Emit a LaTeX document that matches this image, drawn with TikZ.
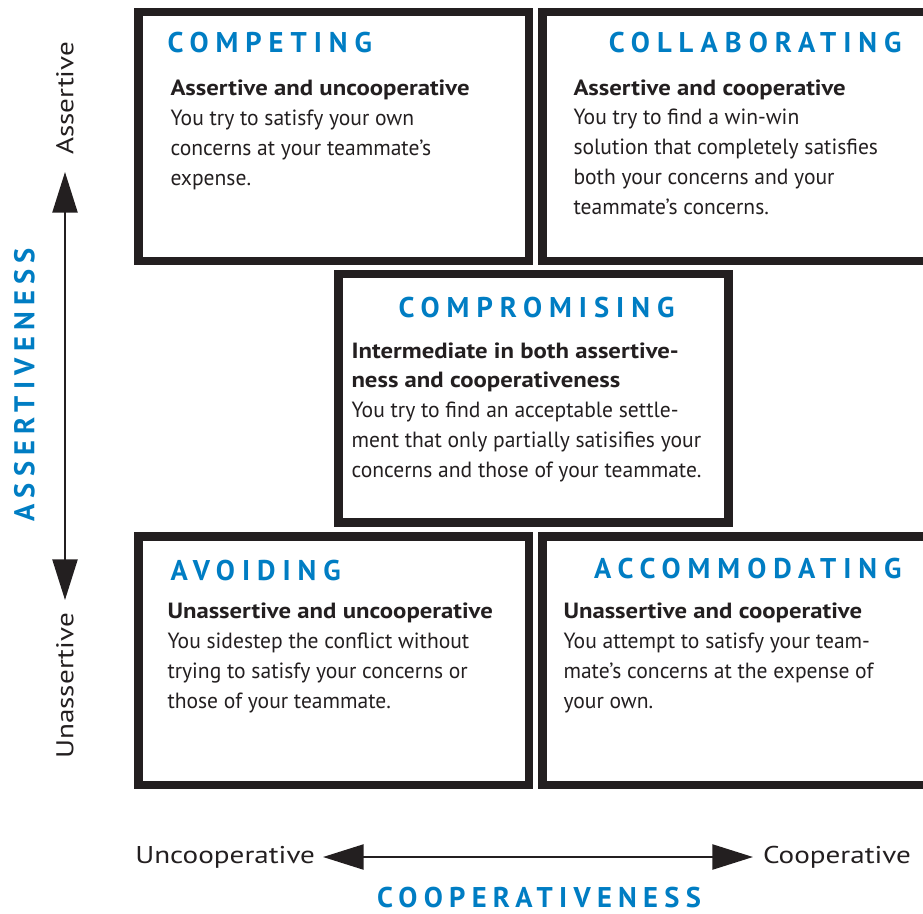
\documentclass[tikz,border=0pt]{standalone}
\usepackage{fontspec}
\setmainfont{PT Sans}[UprightFeatures={FakeStretch=0.98}, BoldFeatures={FakeStretch=1.125}]
\newfontfamily\axisfont{PT Sans}[FakeStretch=1.2]
\newfontfamily\headfont{PT Sans}[LetterSpace=24.5]
\newfontfamily\axistitlefont{PT Sans}[LetterSpace=22]
\usetikzlibrary{arrows.meta}
\definecolor{modeblue}{RGB}{0,125,195}
\definecolor{inkblack}{RGB}{35,31,32}
\tikzset{every picture/.style={line width=0.75pt}}
\tikzset{
  modebox/.style={draw=inkblack, line width=6.4pt},
  modetitle/.style={anchor=base west, inner sep=0pt, text=modeblue, font=\headfont\bfseries\fontsize{21.4}{21.4}\selectfont},
  modetext/.style={anchor=base west, inner sep=0pt, align=left, text=inkblack, font=\fontsize{16.5}{22.3}\selectfont},
  axislabel/.style={inner sep=0pt, text=inkblack, font=\axisfont\fontsize{18.2}{18.2}\selectfont},
  axistitle/.style={inner sep=0pt, text=modeblue, font=\axistitlefont\bfseries\fontsize{21.4}{21.4}\selectfont},
  dblarrow/.style={draw=inkblack, line width=1.8pt, {Triangle[length=30.5pt,width=18.75pt]}-{Triangle[length=30.5pt,width=18.75pt]}},
}

\begin{document}
\begin{tikzpicture}[x=0.75pt,y=0.75pt,yscale=-1,xscale=1]
\useasboundingbox (0,0) rectangle (923,913);
\clip (0,0) rectangle (923,913);

%Boxes
\draw[modebox] (138.5,12) rectangle (529,261);
\draw[modebox] (542.5,12) rectangle (940,261);
\draw[modebox] (338.5,274) rectangle (728.5,522.5);
\draw[modebox] (138.5,536.5) rectangle (529,785);
\draw[modebox] (542.5,536.5) rectangle (940,785);

% Titles
\node[modetitle] (competing) at (167,53) {COMPETING};
\node[modetitle, anchor=base east] (collaborating) at (902,53) {COLLABORATING};
\node[modetitle, anchor=base] (compromising) at (536.5,317) {COMPROMISING};
\node[modetitle] (avoiding) at (170,580) {AVOIDING};
\node[modetitle, anchor=base east] (accommodating) at (902,578) {ACCOMMODATING};

% Text Nodes (anchored at the last line)
\node[modetext] (competingtext) at (170,185) {\textbf{Assertive and uncooperative}\\You try to satisfy your own\\concerns at your teammate’s\\expense.};
\node[modetext] (collaboratingtext) at (573,214) {\textbf{Assertive and cooperative}\\You try to find a win-win\\solution that completely satisfies\\both your concerns and your\\teammate’s concerns.};
\node[modetext] (compromisingtext) at (351,477) {\textbf{Intermediate in both assertive-}\\\textbf{ness and cooperativeness}\\You try to find an acceptable settle-\\ment that only partially satisifies your\\concerns and those of your teammate.};
\node[modetext] (avoidingtext) at (167,708) {\textbf{Unassertive and uncooperative}\\You sidestep the conflict without\\trying to satisfy your concerns or\\those of your teammate.};
\node[modetext] (accommodatingtext) at (563,708) {\textbf{Unassertive and cooperative}\\You attempt to satisfy your team-\\mate’s concerns at the expense of\\your own.};

% Axes
\node[axislabel, rotate=90, anchor=west, outer sep=12.75pt] (assertive) at (65,172) {Assertive};
\node[axislabel, rotate=90, anchor=east, outer sep=9.75pt] (unassertive) at (65,600) {Unassertive};
\node[axislabel, anchor=east, outer sep=6pt] (uncooperative) at (323,857) {Uncooperative};
\node[axislabel, anchor=west, outer sep=7.5pt] (cooperative) at (753,857) {Cooperative};
\node[axistitle, rotate=90] (assertiveness) at (24.5,385) {ASSERTIVENESS};
\node[axistitle] (cooperativeness) at (539,897) {COOPERATIVENESS};

\draw[dblarrow] (unassertive.east) -- (assertive.west);
\draw[dblarrow] (uncooperative.east) -- (cooperative.west);

\end{tikzpicture}
\end{document}
